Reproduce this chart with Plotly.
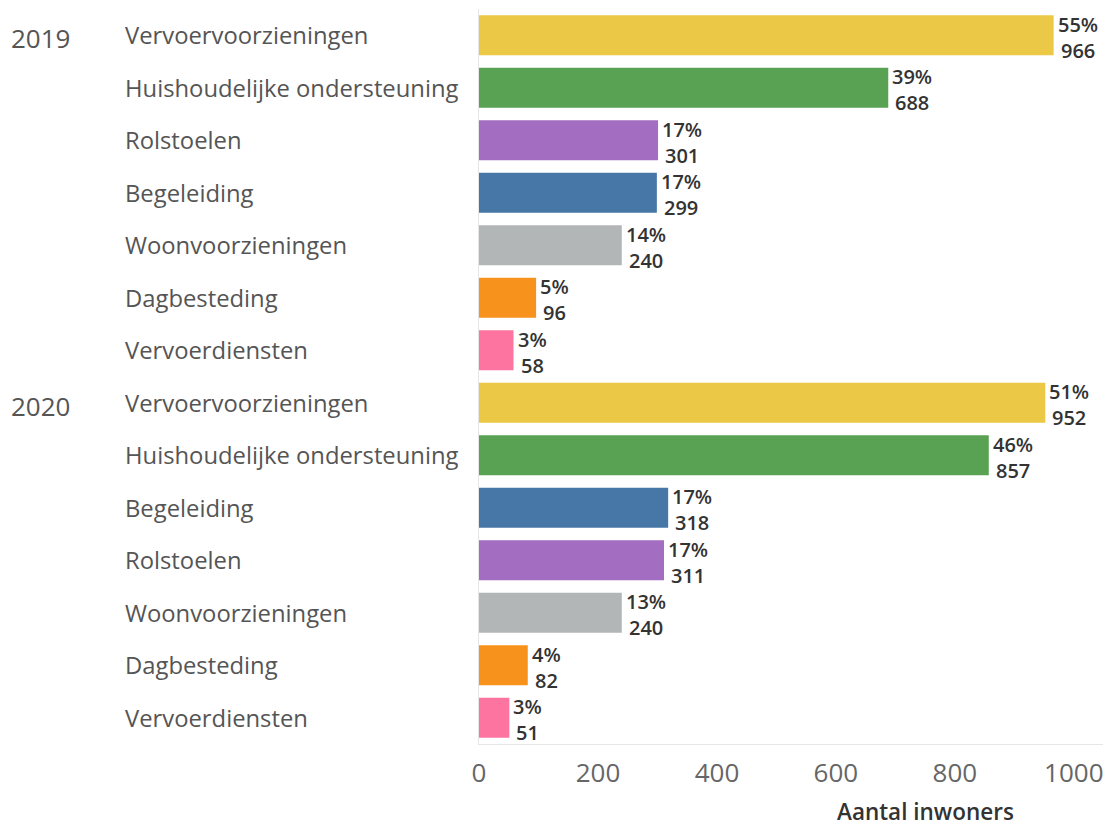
import plotly.graph_objects as go

years = ["2019", "2020"]
categories_2019 = ["Vervoervoorzieningen", "Huishoudelijke ondersteuning", "Rolstoelen", "Begeleiding",
                   "Woonvoorzieningen", "Dagbesteding", "Vervoerdiensten"]
values_2019 = [966, 688, 301, 299, 240, 96, 58]
pct_2019 = ["55%", "39%", "17%", "17%", "14%", "5%", "3%"]
categories_2020 = ["Vervoervoorzieningen", "Huishoudelijke ondersteuning", "Begeleiding", "Rolstoelen",
                   "Woonvoorzieningen", "Dagbesteding", "Vervoerdiensten"]
values_2020 = [952, 857, 318, 311, 240, 82, 51]
pct_2020 = ["51%", "46%", "17%", "17%", "13%", "4%", "3%"]
tick_vals = [0, 200, 400, 600, 800, 1000]
axis_title = "Aantal inwoners"

colors = {
    "Vervoervoorzieningen": "#EBC845",
    "Huishoudelijke ondersteuning": "#59A253",
    "Rolstoelen": "#A36DC1",
    "Begeleiding": "#4777A6",
    "Woonvoorzieningen": "#B3B6B6",
    "Dagbesteding": "#F7921C",
    "Vervoerdiensten": "#FD74A1",
}

cats = categories_2019 + categories_2020
vals = values_2019 + values_2020
pcts = pct_2019 + pct_2020
group_year = [years[0]] * len(categories_2019) + [years[1]] * len(categories_2020)
rows = list(range(len(cats)))

W, H = 1106, 830
L, R, T, B = 479, 3, 9, 86
pw = W - L - R
ph = H - T - B

FONT = "Open Sans"

fig = go.Figure()
fig.add_trace(go.Bar(
    x=vals, y=rows, orientation="h",
    marker=dict(color=[colors[c] for c in cats], line=dict(width=0)),
    width=0.76, hoverinfo="skip",
))

ann = []
for r, c, v, p, yr in zip(rows, cats, vals, pcts, group_year):
    ann.append(dict(x=v, y=r, xref="x", yref="y", text=p, showarrow=False,
                    xanchor="left", yanchor="middle", xshift=2, yshift=11,
                    font=dict(family=FONT, size=20, color="#333333", weight=600)))
    ann.append(dict(x=v, y=r, xref="x", yref="y", text=str(v), showarrow=False,
                    xanchor="left", yanchor="middle", xshift=5, yshift=-15,
                    font=dict(family=FONT, size=20, color="#333333", weight=600)))
    ann.append(dict(x=(123 - L) / pw, y=r, xref="paper", yref="y", text=c, showarrow=False,
                    xanchor="left", yanchor="middle", yshift=0,
                    font=dict(family=FONT, size=23.8, color="#555555")))
for yr in years:
    first = group_year.index(yr)
    ann.append(dict(x=(9 - L) / pw, y=first, xref="paper", yref="y", text=yr, showarrow=False,
                    xanchor="left", yanchor="middle", yshift=-3,
                    font=dict(family=FONT, size=26, color="#555555")))
ann.append(dict(x=(925 - L) / pw, y=-(829 - (H - B)) / ph, xref="paper", yref="paper",
                text=axis_title, showarrow=False, xanchor="center", yanchor="bottom",
                font=dict(family=FONT, size=22.5, color="#333333", weight=600)))

fig.update_layout(
    width=W, height=H,
    margin=dict(l=L, r=R, t=T, b=B),
    paper_bgcolor="white", plot_bgcolor="white",
    showlegend=False,
    annotations=ann,
    font=dict(family=FONT),
)
fig.update_xaxes(range=[0, 1049], tickvals=tick_vals, showgrid=False, zeroline=False,
                 showline=True, linecolor="#E6E6E6", linewidth=1,
                 tickfont=dict(family=FONT, size=26, color="#666666"), ticks="",
                 ticklabelstandoff=6)
fig.update_yaxes(range=[len(cats) - 0.5, -0.5], showticklabels=False, showgrid=False,
                 zeroline=False, showline=True, linecolor="#E6E6E6", linewidth=1)

fig.write_html("out.html", config={"displayModeBar": False},
               post_script="document.body.style.margin='0';")
